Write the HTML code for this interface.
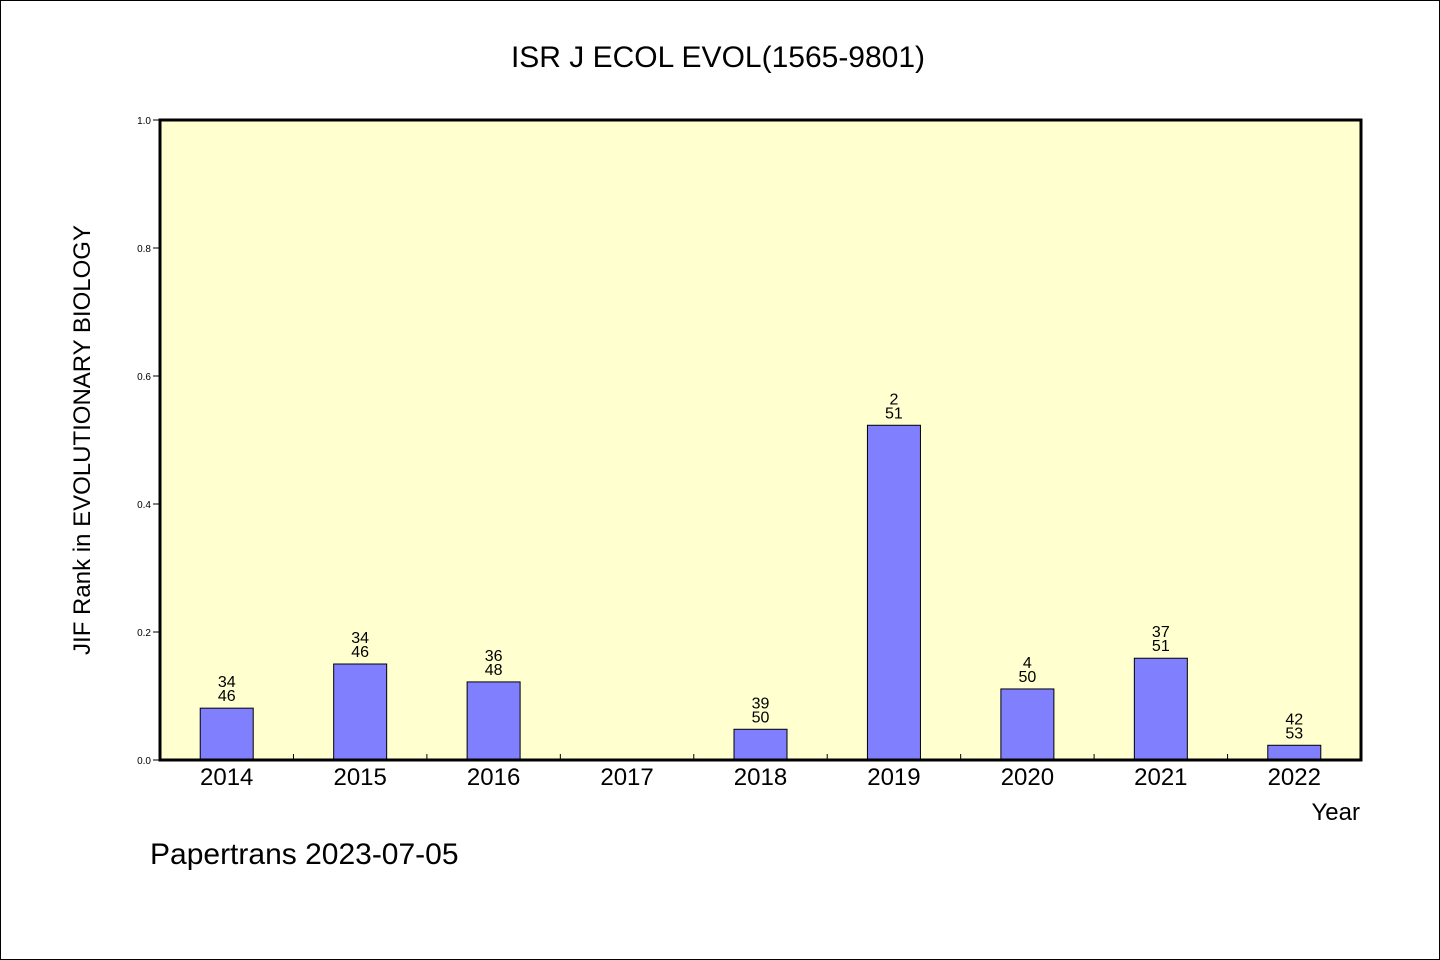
<!DOCTYPE html>
<html><head><meta charset="utf-8"><style>
html,body{margin:0;padding:0;background:#fff}
svg{display:block}
text{font-family:"WenQuanYi Zen Hei","Liberation Sans",sans-serif;fill:#000}
</style></head><body>
<svg id="chart" width="1440" height="960" viewBox="0 0 1440 960" xmlns="http://www.w3.org/2000/svg">
<rect x="0.5" y="0.5" width="1439" height="959" fill="#fff" stroke="#000"/>
<text x="718" y="67" font-size="30" text-anchor="middle">ISR J ECOL EVOL(1565-9801)</text>
<rect x="160" y="120" width="1201" height="640" fill="#ffffd0"/>
<g id="yaxis"></g>
<g id="xaxis"></g>
<g id="bars"></g>
<rect x="160" y="120" width="1201" height="640" fill="none" stroke="#000" stroke-width="3"/>
<text transform="translate(90,440) rotate(-90)" font-size="24" text-anchor="middle">JIF Rank in EVOLUTIONARY BIOLOGY</text>
<text x="1360" y="820" font-size="24" text-anchor="end">Year</text>
<text x="150" y="864" font-size="30">Papertrans 2023-07-05</text>
</svg>
<script>
const categories=["2014","2015","2016","2017","2018","2019","2020","2021","2022"];
const values=[0.081,0.150,0.122,0,0.048,0.523,0.111,0.159,0.023];
const ranks=["34","34","36","","39","2","4","37","42"];
const totals=["46","46","48","","50","51","50","51","53"];
const yTicks=[0,0.2,0.4,0.6,0.8,1.0];
const yTickLabels=["0.0","0.2","0.4","0.6","0.8","1.0"];
const NS="http://www.w3.org/2000/svg";
const L=160,R=1361,T=120,B=760;
const band=(R-L)/categories.length;
const x=i=>L+band*(i+0.5);
const y=v=>B-(v-0)/(1-0)*(B-T);
function mk(tag,attrs,parent,txt){const e=document.createElementNS(NS,tag);for(const k in attrs)e.setAttribute(k,attrs[k]);if(txt!==undefined)e.textContent=txt;parent.appendChild(e);return e;}
const ya=document.getElementById('yaxis'),xa=document.getElementById('xaxis'),bg=document.getElementById('bars');
yTicks.forEach((t,i)=>{
  const ln=mk('line',{x1:153,x2:160,y1:y(t),y2:y(t),stroke:'#000'},ya);
  
  
  const tx=mk('text',{x:151,y:y(t)+4,'font-size':10,'text-anchor':'end'},ya,yTickLabels[i]);
  
  
});
categories.forEach((c,i)=>{
  if(i>0){const tk=mk('line',{x1:L+band*i,x2:L+band*i,y1:B,y2:B-6,stroke:'#000'},xa);
    
    }
  const tl=mk('text',{x:x(i),y:B+25,'font-size':24,'text-anchor':'middle'},xa,c);
  
  
  if(values[i]>0){
    const r=mk('rect',{x:x(i)-26.5,y:y(values[i]),width:53,height:B-y(values[i]),fill:'#8080ff',stroke:'#000','stroke-width':1},bg);
    
    
  }
  if(ranks[i]){
    const t1=mk('text',{x:x(i),y:y(values[i])-21,'font-size':16,'text-anchor':'middle'},bg,ranks[i]);
    
    
    const t2=mk('text',{x:x(i),y:y(values[i])-7,'font-size':16,'text-anchor':'middle'},bg,totals[i]);
    
    
  }
});
</script>
</body></html>
